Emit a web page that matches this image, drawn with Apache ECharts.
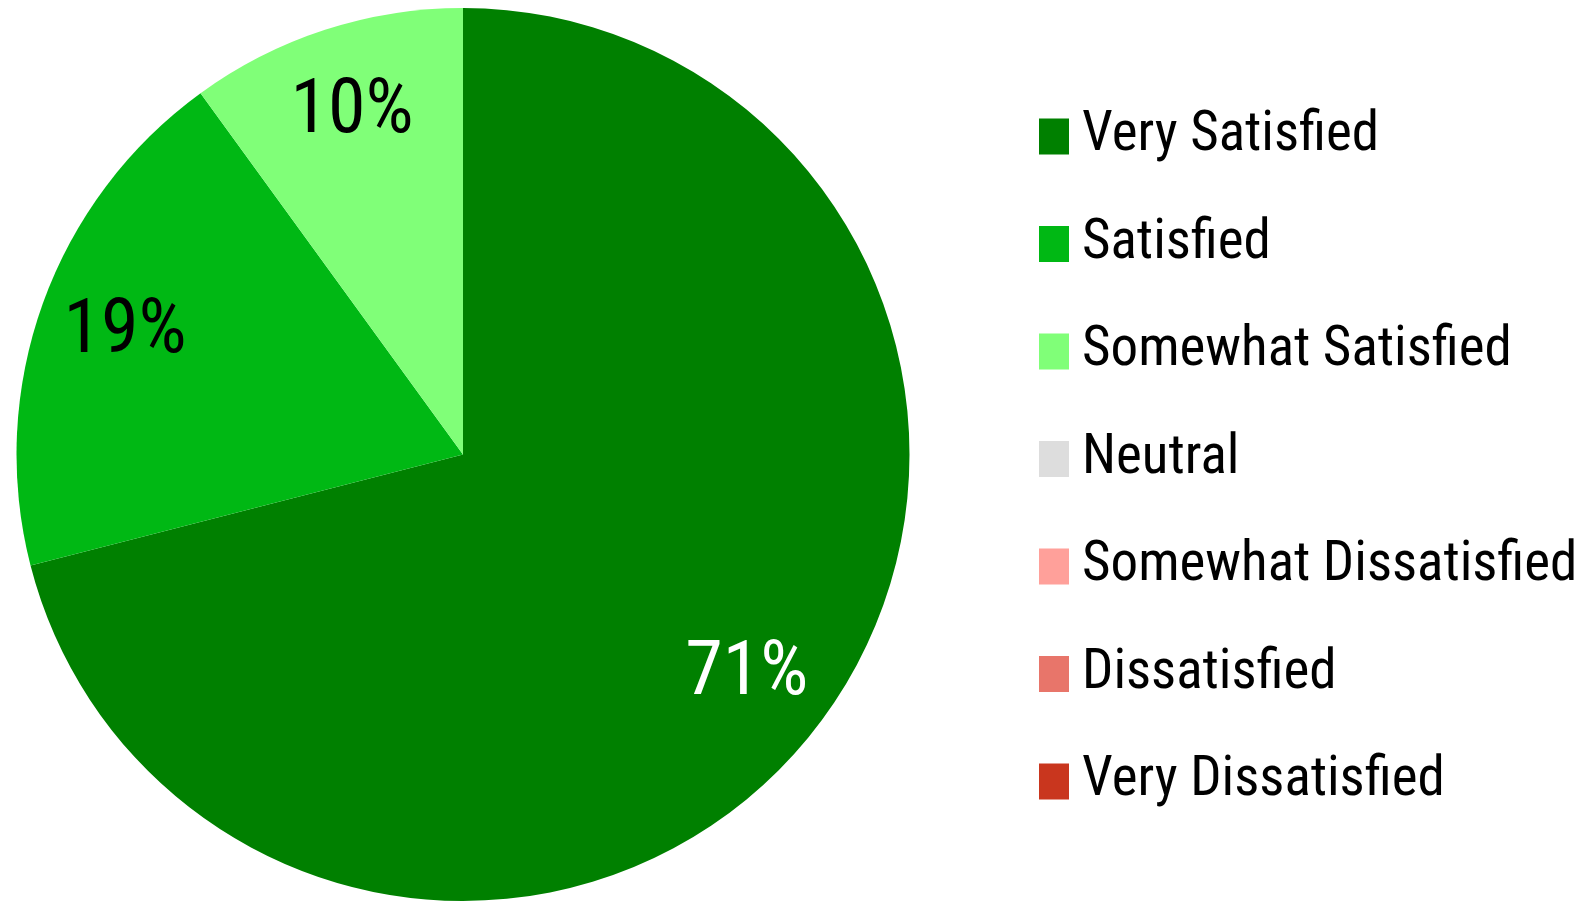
<!DOCTYPE html>
<html>
<head>
<meta charset="utf-8">
<script src="https://cdn.jsdelivr.net/npm/echarts@6/dist/echarts.min.js"></script>
<style>
  html, body { margin: 0; padding: 0; background: #ffffff; }
  #pie_chart { width: 1580px; height: 901px; }
</style>
</head>
<body>
<div id="pie_chart"></div>
<script>
const categories = ['Very Satisfied', 'Satisfied', 'Somewhat Satisfied', 'Neutral',
    'Somewhat Dissatisfied', 'Dissatisfied', 'Very Dissatisfied'];
const shares = [71, 19, 10, 0, 0, 0, 0];
const colors = ['#008000', '#00b814', '#80ff78', '#dddddd', '#ffa09a', '#e8756a', '#c9361e'];
const labelColors = ['#ffffff', '#000000', '#000000', '#000000', '#000000', '#000000', '#000000'];

const fontFamily = '"Roboto Condensed", "Carlito", "DejaVu Sans Condensed", sans-serif';

const chartDom = document.getElementById('pie_chart');
const myChart = echarts.init(chartDom);

const sliceData = categories.map((name, i) => ({ name: name, value: shares[i] }));
const labelData = categories.map((name, i) => ({
    name: name,
    value: shares[i],
    label: { color: labelColors[i] }
}));

const option = {
    backgroundColor: '#ffffff',
    animation: false,
    color: colors,
    legend: {
        orient: 'vertical',
        left: 1034,
        top: 104,
        icon: 'rect',
        itemWidth: 30,
        itemHeight: 36,
        itemGap: 52.5,
        data: categories,
        selectedMode: false,
        textStyle: {
            fontFamily: fontFamily,
            fontSize: 55,
            color: '#000000',
            padding: [0, 0, 0, 8]
        }
    },
    series: [
        {
            name: 'slices',
            type: 'pie',
            center: [463, 454.5],
            radius: [0, 446.5],
            startAngle: 90,
            clockwise: true,
            label: { show: false },
            labelLine: { show: false },
            emphasis: { disabled: true },
            data: sliceData
        },
        {
            // transparent ring, only there to put the percent labels further out
            name: 'labels',
            type: 'pie',
            center: [463, 454.5],
            radius: [266, 446.5],
            startAngle: 90,
            clockwise: true,
            silent: true,
            itemStyle: { color: 'rgba(0,0,0,0)' },
            label: {
                show: true,
                position: 'inside',
                fontFamily: fontFamily,
                fontSize: 76,
                formatter: p => (p.value > 0 ? p.value + '%' : '')
            },
            labelLine: { show: false },
            emphasis: { disabled: true },
            data: labelData
        }
    ]
};

option && myChart.setOption(option);
</script>
</body>
</html>
